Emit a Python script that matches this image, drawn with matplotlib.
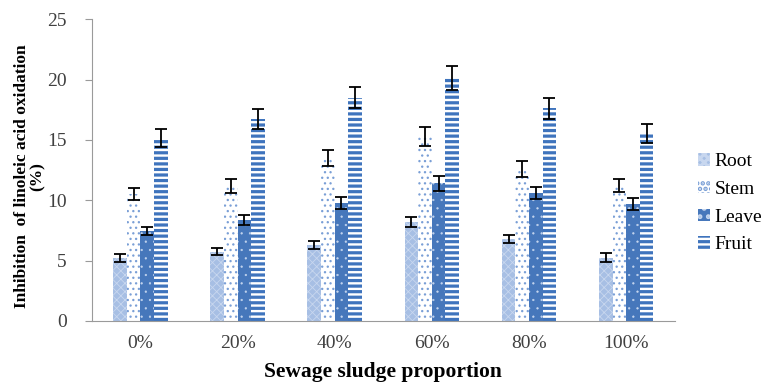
import matplotlib.pyplot as plt
import numpy as np

plt.rcParams['font.family'] = ['Liberation Serif', 'DejaVu Serif']

categories = ['0%', '20%', '40%', '60%', '80%', '100%']
root = [5.2, 5.75, 6.3, 8.2, 6.8, 5.25]
stem = [10.5, 11.2, 13.5, 15.3, 12.6, 11.25]
leave = [7.45, 8.35, 9.75, 11.4, 10.6, 9.7]
fruit = [15.15, 16.7, 18.5, 20.1, 17.6, 15.5]
root_err = [0.33, 0.3, 0.3, 0.4, 0.35, 0.35]
stem_err = [0.5, 0.6, 0.65, 0.8, 0.65, 0.55]
leave_err = [0.35, 0.4, 0.5, 0.6, 0.5, 0.5]
fruit_err = [0.75, 0.83, 0.87, 1.0, 0.9, 0.8]

fig = plt.figure(figsize=(7.65, 3.83), dpi=100)
ax = fig.add_axes([0.120, 0.162, 0.762, 0.788])

x = np.arange(len(categories))
w = 0.14
err_kw = dict(ecolor='black', elinewidth=1.3, capsize=4, capthick=1.3)


def draw(pos, vals, errs, hlw, **kw):
    plt.rcParams['hatch.linewidth'] = hlw
    bars = ax.bar(pos, vals, w, yerr=errs, linewidth=0, error_kw=err_kw, **kw)
    for b in bars:
        if hasattr(b, 'set_hatch_linewidth'):
            b.set_hatch_linewidth(hlw)
    return bars


draw(x - 1.5 * w, root, root_err, 0.6, color='#a7bfe4', edgecolor='#c8d7ef',
     hatch='xxxx', label='Root')
draw(x - 0.5 * w, stem, stem_err, 0.9, color='white', edgecolor='#7a9fd6',
     hatch='...', label='Stem')
draw(x + 0.5 * w, leave, leave_err, 0.4, color='#4677bb', edgecolor='#c4d5ee',
     hatch='..', label='Leave')
draw(x + 1.5 * w, fruit, fruit_err, 2.3, color='white', edgecolor='#3f74bd',
     hatch='---', label='Fruit')

ax.set_xlim(-0.5, len(categories) - 0.5)
ax.set_ylim(0, 25)
ax.set_yticks([0, 5, 10, 15, 20, 25])
ax.set_xticks(x)
ax.set_xticklabels(categories)

for s in ['top', 'right']:
    ax.spines[s].set_visible(False)
for s in ['left', 'bottom']:
    ax.spines[s].set_color('#9a9a9a')
ax.tick_params(axis='y', length=5, color='#9a9a9a', labelsize=14, labelcolor='#404040',
               pad=13)
ax.tick_params(axis='x', length=0, labelsize=14, labelcolor='#404040', pad=10)

ax.set_ylabel('Inhibition  of linoleic acid oxidation\n(%)', fontsize=12.5,
              fontweight='bold', linespacing=0.95)
ax.yaxis.set_label_coords(-0.079, 0.48)
ax.set_xlabel('Sewage sludge proportion', fontsize=15.5, fontweight='bold', labelpad=7)

ax.legend(loc='center left', bbox_to_anchor=(1.01, 0.39), frameon=False, fontsize=14,
          handlelength=0.6, handleheight=0.6, handletextpad=0.25, labelspacing=0.55)

fig.savefig('out.png', dpi=100)
